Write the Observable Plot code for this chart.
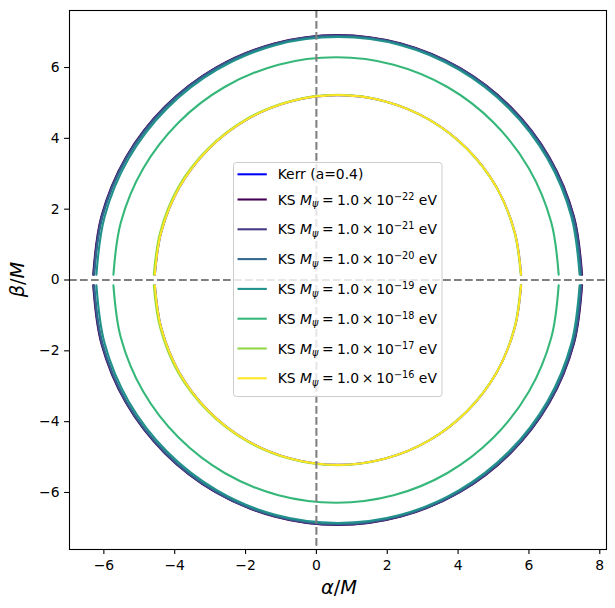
<!DOCTYPE html>
<html>
<head>
<meta charset="utf-8">
<script src="https://cdn.jsdelivr.net/npm/d3@7"></script>
<script src="https://cdn.jsdelivr.net/npm/@observablehq/plot@0.6"></script>
<style>
  body { margin: 0; background: white; }
</style>
</head>
<body>
<div id="chart"></div>
<script>
// ---- Data ----
const xTicks = [-6, -4, -2, 0, 2, 4, 6, 8];
const yTicks = [-6, -4, -2, 0, 2, 4, 6];

const seriesNames = ["Kerr (a=0.4)", "KS 1e-22", "KS 1e-21", "KS 1e-20", "KS 1e-19", "KS 1e-18", "KS 1e-17", "KS 1e-16"];
const massExponents = [null, -22, -21, -20, -19, -18, -17, -16];
const seriesColors = ["#0000ff", "#440154", "#443983", "#31688e", "#21918c", "#35b779", "#90d743", "#fde725"];

// Shadow contours: alpha values with upper (beta > 0) and lower (beta < 0) branches
const kerrAlpha = [5.78, 5.60, 5.09, 4.27, 3.20, 1.95, 0.61, -0.73, -1.98, -3.05, -3.87, -4.38, -4.56];
const kerrBetaUp = [0.15, 1.35, 2.61, 3.69, 4.52, 5.04, 5.22, 5.04, 4.52, 3.69, 2.61, 1.35, 0.15];
const kerrBetaDown = [-0.15, -1.35, -2.61, -3.69, -4.52, -5.04, -5.22, -5.04, -4.52, -3.69, -2.61, -1.35, -0.15];

const ks22Alpha = [7.50, 7.27, 6.58, 5.48, 4.05, 2.39, 0.60, -1.19, -2.85, -4.28, -5.38, -6.07, -6.30];
const ks22BetaUp = [0.15, 1.79, 3.46, 4.89, 5.99, 6.68, 6.92, 6.68, 5.99, 4.89, 3.46, 1.79, 0.15];
const ks22BetaDown = [-0.15, -1.79, -3.46, -4.89, -5.99, -6.68, -6.92, -6.68, -5.99, -4.89, -3.46, -1.79, -0.15];

const ks21Alpha = [7.49, 7.26, 6.57, 5.47, 4.05, 2.38, 0.60, -1.18, -2.85, -4.27, -5.37, -6.06, -6.29];
const ks21BetaUp = [0.15, 1.79, 3.46, 4.89, 5.98, 6.67, 6.91, 6.67, 5.98, 4.89, 3.46, 1.79, 0.15];
const ks21BetaDown = [-0.15, -1.79, -3.46, -4.89, -5.98, -6.67, -6.91, -6.67, -5.98, -4.89, -3.46, -1.79, -0.15];

const ks20Alpha = [7.47, 7.24, 6.55, 5.46, 4.04, 2.38, 0.60, -1.18, -2.84, -4.26, -5.35, -6.04, -6.27];
const ks20BetaUp = [0.15, 1.78, 3.45, 4.87, 5.97, 6.66, 6.89, 6.66, 5.97, 4.87, 3.45, 1.78, 0.15];
const ks20BetaDown = [-0.15, -1.78, -3.45, -4.87, -5.97, -6.66, -6.89, -6.66, -5.97, -4.87, -3.45, -1.78, -0.15];

const ks19Alpha = [7.43, 7.20, 6.52, 5.43, 4.02, 2.38, 0.61, -1.16, -2.80, -4.21, -5.30, -5.98, -6.21];
const ks19BetaUp = [0.15, 1.78, 3.43, 4.85, 5.94, 6.63, 6.86, 6.63, 5.94, 4.85, 3.43, 1.78, 0.15];
const ks19BetaDown = [-0.15, -1.78, -3.43, -4.85, -5.94, -6.63, -6.86, -6.63, -5.94, -4.85, -3.43, -1.78, -0.15];

const ks18Alpha = [6.84, 6.63, 6.00, 5.00, 3.70, 2.18, 0.56, -1.07, -2.59, -3.89, -4.89, -5.52, -5.73];
const ks18BetaUp = [0.15, 1.63, 3.15, 4.45, 5.45, 6.08, 6.29, 6.08, 5.45, 4.45, 3.15, 1.63, 0.15];
const ks18BetaDown = [-0.15, -1.63, -3.15, -4.45, -5.45, -6.08, -6.29, -6.08, -5.45, -4.45, -3.15, -1.63, -0.15];

const ks17Alpha = [5.77, 5.59, 5.08, 4.25, 3.18, 1.93, 0.59, -0.75, -2.00, -3.07, -3.90, -4.41, -4.59];
const ks17BetaUp = [0.15, 1.35, 2.62, 3.70, 4.53, 5.05, 5.23, 5.05, 4.53, 3.70, 2.62, 1.35, 0.15];
const ks17BetaDown = [-0.15, -1.35, -2.62, -3.70, -4.53, -5.05, -5.23, -5.05, -4.53, -3.70, -2.62, -1.35, -0.15];

const ks16Alpha = [5.78, 5.60, 5.09, 4.27, 3.20, 1.95, 0.61, -0.73, -1.98, -3.05, -3.87, -4.38, -4.56];
const ks16BetaUp = [0.15, 1.35, 2.61, 3.69, 4.52, 5.04, 5.22, 5.04, 4.52, 3.69, 2.61, 1.35, 0.15];
const ks16BetaDown = [-0.15, -1.35, -2.61, -3.69, -4.52, -5.04, -5.22, -5.04, -4.52, -3.69, -2.61, -1.35, -0.15];

// ---- Build tables ----
const curveSets = [
  [kerrAlpha, kerrBetaUp, kerrBetaDown],
  [ks22Alpha, ks22BetaUp, ks22BetaDown],
  [ks21Alpha, ks21BetaUp, ks21BetaDown],
  [ks20Alpha, ks20BetaUp, ks20BetaDown],
  [ks19Alpha, ks19BetaUp, ks19BetaDown],
  [ks18Alpha, ks18BetaUp, ks18BetaDown],
  [ks17Alpha, ks17BetaUp, ks17BetaDown],
  [ks16Alpha, ks16BetaUp, ks16BetaDown]
];

const curveMarks = [];
curveSets.forEach(([al, up, down], i) => {
  const rows = [];
  al.forEach((a, j) => rows.push({alpha: a, beta: up[j], series: seriesNames[i], branch: "up"}));
  al.forEach((a, j) => rows.push({alpha: a, beta: down[j], series: seriesNames[i], branch: "down"}));
  curveMarks.push(Plot.line(rows, {
    x: "alpha", y: "beta", z: "branch", stroke: "series",
    curve: "catmull-rom", strokeWidth: 2.08
  }));
});

const W = 615, H = 608;
const ML = 69, MR = 9, MT = 10, MB = 59;

const chart = Plot.plot({
  width: W, height: H,
  marginLeft: ML, marginRight: MR, marginTop: MT, marginBottom: MB,
  style: {fontFamily: "DejaVu Sans", fontSize: "13.9px", color: "black", background: "white"},
  x: {domain: [-6.97, 8.19], label: null},
  y: {domain: [-7.61, 7.61], label: null},
  color: {domain: seriesNames, range: seriesColors},
  marks: [
    ...curveMarks,
    Plot.ruleX([0], {stroke: "#808080", strokeWidth: 2.08, strokeDasharray: "7.7,3.3"}),
    Plot.ruleY([0], {stroke: "#808080", strokeWidth: 2.08, strokeDasharray: "7.7,3.3"}),
    Plot.frame({stroke: "black", strokeWidth: 1.1}),
    Plot.axisX({ticks: xTicks, tickSize: 4.9, tickPadding: 6, label: null, strokeWidth: 1.1}),
    Plot.axisY({ticks: yTicks, tickSize: 4.9, tickPadding: 5, label: null, strokeWidth: 1.1})
  ]
});
document.getElementById("chart").append(chart);

// ---- Axis labels (math-style) ----
const svg = d3.select(chart);
const xl = svg.append("text")
  .attr("x", 339).attr("y", 594)
  .attr("text-anchor", "middle")
  .attr("font-size", 19.4).attr("fill", "black");
xl.append("tspan").attr("font-style", "italic").text("α");
xl.append("tspan").text("/");
xl.append("tspan").attr("font-style", "italic").text("M");

const yl = svg.append("text")
  .attr("transform", `translate(24,${(MT + H - MB) / 2}) rotate(-90)`)
  .attr("text-anchor", "middle")
  .attr("font-size", 19.4).attr("fill", "black");
yl.append("tspan").attr("font-style", "italic").text("β");
yl.append("tspan").text("/");
yl.append("tspan").attr("font-style", "italic").text("M");

// ---- Legend ----
const lg = svg.append("g").attr("text-anchor", "start");
lg.append("rect")
  .attr("x", 233.5).attr("y", 162.5).attr("width", 208.5).attr("height", 234)
  .attr("rx", 3).attr("fill", "white").attr("fill-opacity", 0.8)
  .attr("stroke", "#cccccc").attr("stroke-width", 1);

seriesNames.forEach((name, i) => {
  const cy = i === 0 ? 174.3 : 199.5 + (i - 1) * 29.8;
  lg.append("line")
    .attr("x1", 237.5).attr("x2", 266.8).attr("y1", cy).attr("y2", cy)
    .attr("stroke", seriesColors[i]).attr("stroke-width", 2.08);
  const t = lg.append("text").attr("x", 277.7).attr("y", cy + 5.1)
    .attr("text-anchor", "start")
    .attr("font-size", 13.9).attr("fill", "black");
  if (massExponents[i] === null) {
    t.text(name);
  } else {
    t.append("tspan").text("KS ");
    t.append("tspan").attr("font-style", "italic").text("M");
    t.append("tspan").attr("font-style", "italic").attr("font-size", 9.7).attr("dy", 2.5).text("ψ");
    t.append("tspan").attr("dy", -2.5).text("\u2005=\u20051.0\u2009×\u200910");
    t.append("tspan").attr("font-size", 9.7).attr("dy", -5).text("−" + Math.abs(massExponents[i]));
    t.append("tspan").attr("dy", 5).text(" eV");
  }
});
</script>
</body>
</html>
